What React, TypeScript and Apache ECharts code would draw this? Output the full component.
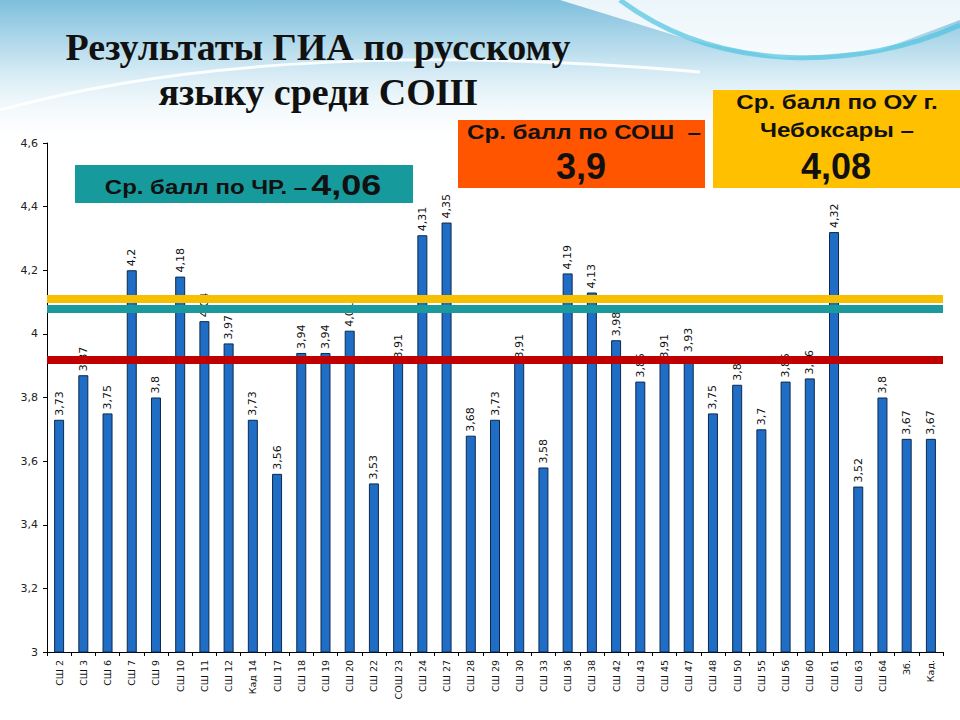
import React, { useEffect, useRef } from 'react';
import * as echarts from 'echarts';

const categories = [
  'СШ 2', 'СШ 3', 'СШ 6', 'СШ 7', 'СШ 9', 'СШ 10', 'СШ 11', 'СШ 12', 'Кад 14', 'СШ 17',
  'СШ 18', 'СШ 19', 'СШ 20', 'СШ 22', 'СОШ 23', 'СШ 24', 'СШ 27', 'СШ 28', 'СШ 29', 'СШ 30',
  'СШ 33', 'СШ 36', 'СШ 38', 'СШ 42', 'СШ 43', 'СШ 45', 'СШ 47', 'СШ 48', 'СШ 50', 'СШ 55',
  'СШ 56', 'СШ 60', 'СШ 61', 'СШ 63', 'СШ 64', 'Зб.', 'Кад.',
];
const values = [
  3.73, 3.87, 3.75, 4.2, 3.8, 4.18, 4.04, 3.97, 3.73, 3.56,
  3.94, 3.94, 4.01, 3.53, 3.91, 4.31, 4.35, 3.68, 3.73, 3.91,
  3.58, 4.19, 4.13, 3.98, 3.85, 3.91, 3.93, 3.75, 3.84, 3.7,
  3.85, 3.86, 4.32, 3.52, 3.8, 3.67, 3.67,
];
// reference lines as drawn on the picture: city (yellow), republic (teal), schools (red)
const refLineValues = [4.105, 4.08, 3.92];
const titleLines = ['Результаты ГИА по русскому', 'языку среди СОШ'];
const boxTeal = ['Ср. балл по ЧР. –', '4,06'];
const boxOrange = ['Ср. балл по СОШ  –', '3,9'];
const boxYellow = ['Ср. балл по ОУ г.', 'Чебоксары –', '4,08'];

const comma = (v: number) => String(Number(v.toFixed(2))).replace('.', ',');

export default function App() {
  const ref = useRef<HTMLDivElement>(null);
  useEffect(() => {
    document.body.style.margin = '0';
    const chart = echarts.init(ref.current!, null, { renderer: 'svg' });
    const sans = 'Liberation Sans';
    const lineColors = ['#f6c000', '#1a9a9c', '#c00000'];
    const boxText = (x: number, y: number, text: string, size: number, sx: number) => ({
      type: 'text', z: 21, x, y, scaleX: sx,
      style: {
        text, fontFamily: sans, fontWeight: 'bold', fontSize: size,
        fill: '#111', align: 'center', verticalAlign: 'middle',
      },
    });
    chart.setOption({
      animation: false,
      backgroundColor: '#ffffff',
      grid: { left: 47, right: 17, top: 143, bottom: 68 },
      xAxis: {
        type: 'category',
        data: categories,
        boundaryGap: true,
        axisLine: { lineStyle: { color: '#000', width: 1 } },
        axisTick: { show: true, length: 4, lineStyle: { color: '#000' } },
        axisLabel: {
          rotate: 90, interval: 0, fontSize: 9.5, color: '#111',
          fontFamily: 'DejaVu Sans', margin: 8,
        },
      },
      yAxis: {
        type: 'value', min: 3, max: 4.6, interval: 0.2,
        splitLine: { show: false },
        axisLine: { show: true, lineStyle: { color: '#000', width: 1 } },
        axisTick: { show: true, length: 4, lineStyle: { color: '#000' } },
        axisLabel: {
          fontSize: 11, color: '#222', fontFamily: 'DejaVu Sans', margin: 9,
          formatter: (v: number) => comma(v),
        },
      },
      series: [
        {
          type: 'bar',
          data: values,
          barWidth: 10,
          itemStyle: { color: '#1f6dc4', borderColor: '#0b2a4e', borderWidth: 1 },
          label: {
            show: true, position: 'top', rotate: 90, align: 'left', verticalAlign: 'middle',
            distance: 4, fontSize: 11, color: '#111', fontFamily: 'DejaVu Sans',
            formatter: (p: any) => comma(p.value),
          },
        },
        {
          type: 'line',
          data: [],
          z: 6,
          markLine: {
            silent: true,
            symbol: ['none', 'none'],
            label: { show: false },
            data: refLineValues.map((v, i) => ({
              yAxis: v,
              lineStyle: { color: lineColors[i], width: 8, type: 'solid' },
            })),
          },
        },
      ],
      graphic: [
        {
          type: 'rect', z: -10, silent: true,
          shape: { x: 0, y: 0, width: 960, height: 150 },
          style: {
            fill: new echarts.graphic.LinearGradient(0, 0, 0, 1, [
              { offset: 0, color: '#7fbfdd' },
              { offset: 0.45, color: '#cfe8f3' },
              { offset: 1, color: 'rgba(255,255,255,0)' },
            ]),
          },
        },
        {
          type: 'polygon', z: -9, silent: true,
          shape: { points: [[560, 0], [960, 0], [960, 20], [880, 50], [780, 58], [690, 40]] },
          style: { fill: 'rgba(255,255,255,0.85)' },
        },
        {
          type: 'bezierCurve', z: -8, silent: true,
          shape: { x1: 620, y1: 0, cpx1: 720, cpy1: 75, cpx2: 860, cpy2: 70, x2: 960, y2: 25 },
          style: { stroke: '#4fc3df', lineWidth: 5, fill: 'none', opacity: 0.7 },
        },
        {
          type: 'bezierCurve', z: -8, silent: true,
          shape: { x1: 0, y1: 110, cpx1: 200, cpy1: 55, cpx2: 450, cpy2: 50, x2: 700, y2: 72 },
          style: { stroke: 'rgba(255,255,255,0.9)', lineWidth: 3, fill: 'none' },
        },
        {
          type: 'text', z: 20, x: 318, y: 47,
          style: {
            text: titleLines[0], fontFamily: 'Liberation Serif', fontWeight: 'bold',
            fontSize: 38, fill: '#111', align: 'center', verticalAlign: 'middle',
          },
        },
        {
          type: 'text', z: 20, x: 318, y: 92,
          style: {
            text: titleLines[1], fontFamily: 'Liberation Serif', fontWeight: 'bold',
            fontSize: 38, fill: '#111', align: 'center', verticalAlign: 'middle',
          },
        },
        {
          type: 'rect', z: 20, shape: { x: 75, y: 165, width: 338, height: 38 },
          style: { fill: '#179a9c' },
        },
        {
          type: 'text', z: 21, x: 243, y: 185, scaleX: 1.2,
          style: {
            text: `{a|${boxTeal[0]}} {b|${boxTeal[1]}}`,
            align: 'center', verticalAlign: 'middle',
            rich: {
              a: { fontFamily: sans, fontWeight: 'bold', fontSize: 20, fill: '#111', verticalAlign: 'bottom', padding: [0, 0, 3, 0] },
              b: { fontFamily: sans, fontWeight: 'bold', fontSize: 30, fill: '#111', verticalAlign: 'bottom' },
            },
          },
        },
        {
          type: 'rect', z: 20, shape: { x: 458, y: 120, width: 247, height: 68 },
          style: { fill: '#ff5500' },
        },
        boxText(584, 132, boxOrange[0], 21, 1.15),
        boxText(581, 166, boxOrange[1], 36, 1),
        {
          type: 'rect', z: 20, shape: { x: 713, y: 90, width: 247, height: 98 },
          style: { fill: '#ffc000' },
        },
        boxText(837, 102, boxYellow[0], 21, 1.15),
        boxText(837, 130, boxYellow[1], 21, 1.15),
        boxText(836, 166, boxYellow[2], 36, 1),
      ],
    });
    return () => chart.dispose();
  }, []);
  return <div ref={ref} style={{ width: 960, height: 720 }} />;
}
